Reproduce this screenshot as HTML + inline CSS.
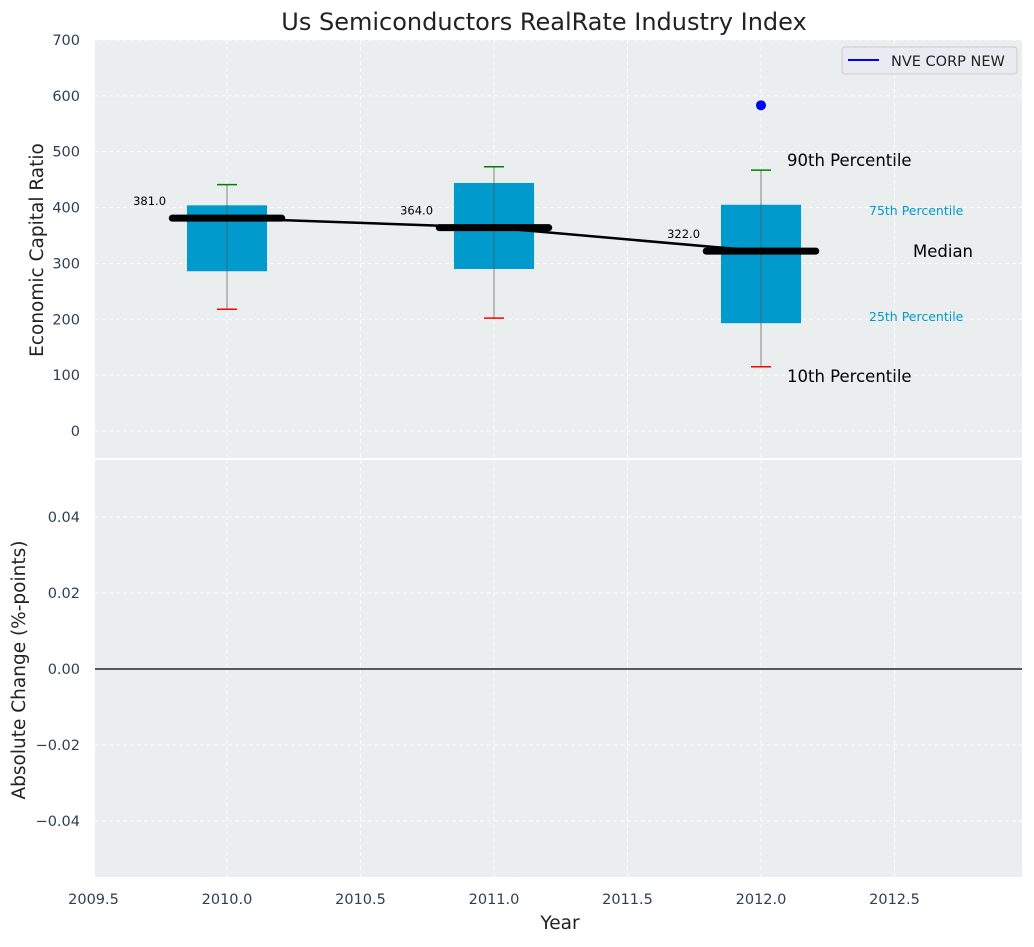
<!DOCTYPE html>
<html><head><meta charset="utf-8"><style>
body{margin:0;background:#fff;font-family:"Liberation Sans","DejaVu Sans",sans-serif;}
svg text{font-family:"DejaVu Sans","Liberation Sans",sans-serif;}
</style></head><body>
<svg id="c" width="1034" height="942" xmlns="http://www.w3.org/2000/svg"></svg>
<script>
const years=[2010,2011,2012];
const q1=[286,290,193];
const q3=[404,444,405];
const p10=[218,202,115];
const p90=[441,473,467];
const medians=[381,364,322];
const outlierYears=[2012];
const outlierValues=[583];
const topTicks=[0,100,200,300,400,500,600,700];
const botTicks=[-0.04,-0.02,0.00,0.02,0.04];
const xTicks=[2009.5,2010,2010.5,2011,2011.5,2012,2012.5];

const NS="http://www.w3.org/2000/svg";
const svg=document.getElementById('c');
function el(t,a,p){const e=document.createElementNS(NS,t);for(const k in a)e.setAttribute(k,a[k]);(p||svg).appendChild(e);return e;}
const L=95,R=1022,T1=40,B1=458,T2=460,B2=877;
const X=v=>93.5+(v-2009.5)*267;
const Y1=v=>431-v*0.5586;
const Y2=v=>669-v*3800;

let e;
e=el('text',{x:544,y:30,'text-anchor':'middle','font-size':24,fill:'#222'});e.textContent='Us Semiconductors RealRate Industry Index';

e=el('rect',{x:L,y:T1,width:R-L,height:B1-T1,fill:'#eaeeef'});

e=el('rect',{x:L,y:T2,width:R-L,height:B2-T2,fill:'#eaeeef'});


xTicks.forEach(v=>{
 el('line',{x1:X(v),x2:X(v),y1:T1,y2:B1,stroke:'#fff','stroke-dasharray':'4,3','stroke-width':0.8});
 el('line',{x1:X(v),x2:X(v),y1:T2,y2:B2,stroke:'#fff','stroke-dasharray':'4,3','stroke-width':0.8});
 e=el('text',{x:X(v),y:904,'text-anchor':'middle','font-size':14.5,fill:'#2b3f55'});e.textContent=v.toFixed(1);
 
});
topTicks.forEach(v=>{
 el('line',{x1:L,x2:R,y1:Y1(v),y2:Y1(v),stroke:'#fff','stroke-dasharray':'4,3','stroke-width':0.8});
 e=el('text',{x:80,y:Y1(v)+5,'text-anchor':'end','font-size':14.5,fill:'#2b3f55'});e.textContent=v;
 
});
botTicks.forEach(v=>{
 el('line',{x1:L,x2:R,y1:Y2(v),y2:Y2(v),stroke:'#fff','stroke-dasharray':'4,3','stroke-width':0.8});
 e=el('text',{x:80,y:Y2(v)+5,'text-anchor':'end','font-size':14.5,fill:'#2b3f55'});e.textContent=(v<0?'\u22120.0':'0.0')+Math.abs(v*100).toFixed(0);
 
});
e=el('line',{x1:L,x2:R,y1:Y2(0),y2:Y2(0),stroke:'#000','stroke-width':1.2});


years.forEach((y,i)=>{
 const cx=X(y);
 e=el('rect',{x:X(y-0.15),y:Y1(q3[i]),width:X(y+0.15)-X(y-0.15),height:Y1(q1[i])-Y1(q3[i]),fill:'#009ACD'});
 
 e=el('line',{x1:cx,x2:cx,y1:Y1(p90[i]),y2:Y1(p10[i]),stroke:'#555','stroke-width':1,opacity:0.7});
 
 e=el('line',{x1:cx-10,x2:cx+10,y1:Y1(p90[i]),y2:Y1(p90[i]),stroke:'green','stroke-width':1.5});
 
 e=el('line',{x1:cx-10,x2:cx+10,y1:Y1(p10[i]),y2:Y1(p10[i]),stroke:'red','stroke-width':1.5});
 
});
e=el('polyline',{points:years.map((y,i)=>X(y)+','+Y1(medians[i])).join(' '),fill:'none',stroke:'#000','stroke-width':2.5});

years.forEach((y,i)=>{
 e=el('line',{x1:X(y-0.205),x2:X(y+0.205),y1:Y1(medians[i]),y2:Y1(medians[i]),stroke:'#000','stroke-width':7,'stroke-linecap':'round'});
 
 e=el('text',{x:X(y-0.29),y:Y1(medians[i])-13,'text-anchor':'middle','font-size':11.5,fill:'#000'});e.textContent=medians[i].toFixed(1);
 
});
outlierYears.forEach((y,i)=>{
 e=el('circle',{cx:X(y),cy:Y1(outlierValues[i]),r:5,fill:'#0000ff'});
 
});
const ann=[['90th Percentile',787,166,16.5,'#000'],['10th Percentile',787,382,16.5,'#000'],['Median',913,257,16.5,'#000'],['75th Percentile',869,215,12.5,'#009ACD'],['25th Percentile',869,321,12.5,'#009ACD']];
ann.forEach(a=>{e=el('text',{x:a[1],y:a[2],'font-size':a[3],fill:a[4]});e.textContent=a[0];
 });

const lg=el('g',{});

el('rect',{x:842,y:47,width:175,height:27,rx:3,fill:'#eaeaf2',stroke:'#ccc'},lg);
el('line',{x1:848,x2:879,y1:60,y2:60,stroke:'#0000ff','stroke-width':2},lg);
e=el('text',{x:891,y:66,'font-size':14.5,fill:'#222'},lg);e.textContent='NVE CORP NEW';

e=el('text',{x:0,y:0,'font-size':18.5,fill:'#222','text-anchor':'middle',transform:'translate(43,250) rotate(-90)'});e.textContent='Economic Capital Ratio';

e=el('text',{x:0,y:0,'font-size':18.5,fill:'#222','text-anchor':'middle',transform:'translate(25,670) rotate(-90)'});e.textContent='Absolute Change (%-points)';

e=el('text',{x:560,y:929,'font-size':18.5,fill:'#222','text-anchor':'middle'});e.textContent='Year';

</script>
</body></html>
